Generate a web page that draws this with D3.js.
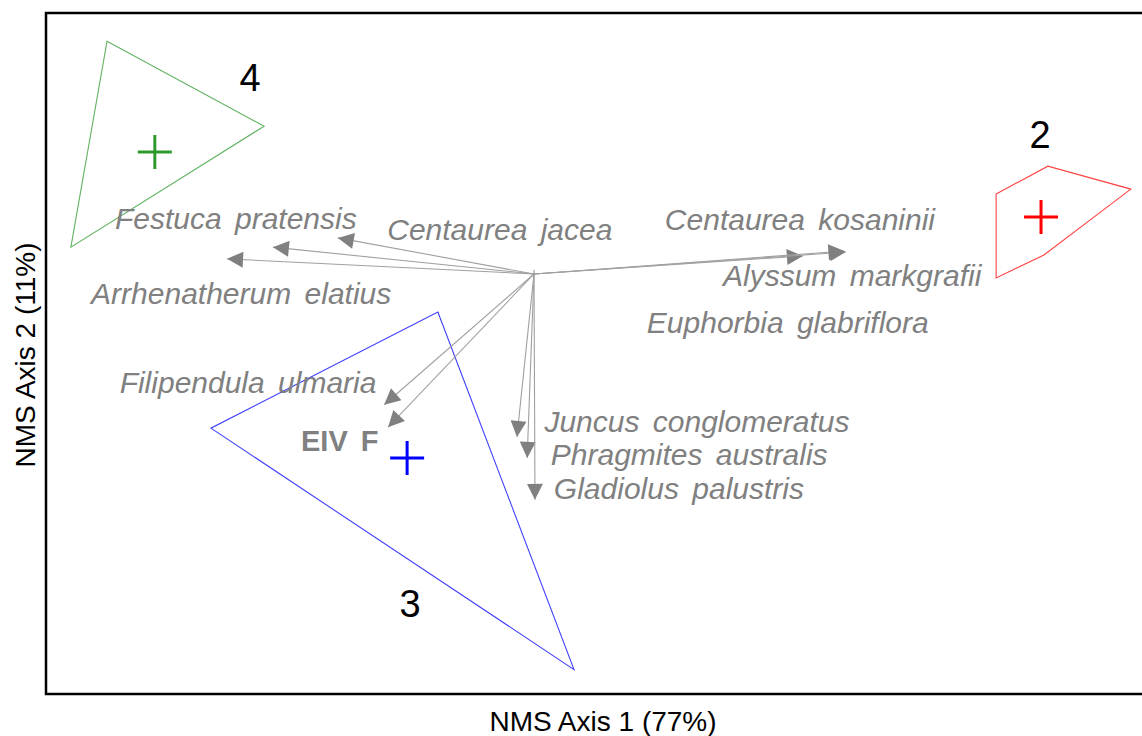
<!DOCTYPE html>
<html>
<head>
<meta charset="utf-8">
<script src="https://cdn.jsdelivr.net/npm/d3@7"></script>
<style>
  body { margin: 0; background: #fff; }
  svg { display: block; font-family: "Liberation Sans", Arial, sans-serif; }
</style>
</head>
<body>
<div id="chart"></div>
<script>
// species vectors (NMS scores), tip of arrow
var species = ["Festuca pratensis", "Centaurea jacea", "Arrhenatherum elatius", "Centaurea kosaninii",
    "Alyssum markgrafii", "Euphorbia glabriflora", "Filipendula ulmaria", "EIV F",
    "Juncus conglomeratus", "Phragmites australis", "Gladiolus palustris"];
var arrowX = [-0.535, -0.402, -0.629, 0.551, 0.639, 0.636, -0.307, -0.299, -0.035, -0.014, 0.002];
var arrowY = [0.055, 0.074, 0.031, 0.037, 0.045, 0.047, -0.268, -0.314, -0.334, -0.377, -0.463];
var labelX = [-0.611, -0.070, -0.600, 0.545, 0.652, 0.520, -0.586, -0.398, 0.334, 0.318, 0.297];
var labelY = [0.092, 0.070, -0.061, 0.090, -0.025, -0.121, -0.244, -0.363, -0.324, -0.391, -0.461];

// groups: hull vertices and centroids
var groups = ["4", "2", "3"];
var groupColors = ["#2e9a2e", "#ff0000", "#0000ff"];
var hullX = [[-0.875, -0.553, -0.949], [0.947, 1.053, 1.223, 1.045, 0.947], [-0.197, 0.082, -0.662]];
var hullY = [[0.477, 0.303, 0.055], [0.164, 0.221, 0.174, 0.039, -0.008], [-0.078, -0.811, -0.316]];
var centX = [-0.777, 1.039, -0.260];
var centY = [0.250, 0.117, -0.377];
var groupLabelX = [-0.582, 1.037, -0.254];
var groupLabelY = [0.375, 0.258, -0.703];

var xTitle = "NMS Axis 1 (77%)";
var yTitle = "NMS Axis 2 (11%)";

var W = 1142, H = 736;
var margin = {top: 13, right: -2, bottom: 42, left: 46};
var width = W - margin.left - margin.right,
    height = H - margin.top - margin.bottom;

var svg = d3.select("#chart").append("svg").attr("width", W).attr("height", H);
var g = svg.append("g").attr("transform", "translate(" + margin.left + "," + margin.top + ")");

var x = d3.scaleLinear().domain([-1.0, 1.25]).range([0, width]);
var y = d3.scaleLinear().domain([-0.861, 0.535]).range([height, 0]);

// arrow marker
svg.append("defs").append("marker")
    .attr("id", "head").attr("viewBox", "0 0 10 10")
    .attr("refX", 10).attr("refY", 5)
    .attr("markerWidth", 22).attr("markerHeight", 16)
    .attr("markerUnits", "userSpaceOnUse")
    .attr("orient", "auto")
    .append("path").attr("d", "M0,0L10,5L0,10Z").attr("fill", "#808080");

// hulls
groups.forEach(function(grp, i) {
    var pts = hullX[i].map(function(v, j) { return [x(v), y(hullY[i][j])]; });
    g.append("path")
        .attr("d", d3.line().curve(d3.curveLinearClosed)(pts))
        .attr("fill", "none").attr("stroke", groupColors[i]).attr("stroke-width", 1.1)
        .attr("stroke-opacity", 0.75);
    var cx = x(centX[i]), cy = y(centY[i]);
    g.append("path")
        .attr("d", "M" + (cx - 17) + "," + cy + "H" + (cx + 17) + "M" + cx + "," + (cy - 17) + "V" + (cy + 17))
        .attr("stroke", groupColors[i]).attr("stroke-width", 3);
    g.append("text")
        .attr("x", x(groupLabelX[i])).attr("y", y(groupLabelY[i]))
        .attr("text-anchor", "middle").attr("font-size", 38).attr("fill", "#000")
        .text(grp);
});

// species arrows
g.selectAll(".vec").data(species).enter().append("line")
    .attr("class", "vec")
    .attr("x1", x(0)).attr("y1", y(0))
    .attr("x2", function(d, i) { return x(arrowX[i]); })
    .attr("y2", function(d, i) { return y(arrowY[i]); })
    .attr("stroke", "#a0a0a0").attr("stroke-width", 1.1)
    .attr("marker-end", "url(#head)");

g.append("line").attr("x1", x(0)).attr("x2", x(0)).attr("y1", y(0)).attr("y2", y(0) - 4)
    .attr("stroke", "#8c8c8c");

g.selectAll(".lab").data(species).enter().append("text")
    .attr("class", "lab")
    .attr("x", function(d, i) { return x(labelX[i]); })
    .attr("y", function(d, i) { return y(labelY[i]); })
    .attr("text-anchor", "middle")
    .attr("font-size", function(d) { return d == "EIV F" ? 29 : 30; })
    .attr("word-spacing", 5)
    .attr("font-style", function(d) { return d == "EIV F" ? "normal" : "italic"; })
    .attr("font-weight", function(d) { return d == "EIV F" ? "bold" : "normal"; })
    .attr("fill", "#808080")
    .text(function(d) { return d; });

// frame
g.append("rect").attr("x", 0).attr("y", 0).attr("width", width).attr("height", height)
    .attr("fill", "none").attr("stroke", "#000").attr("stroke-width", 2.5);

// axis titles
svg.append("text").attr("x", 603).attr("y", 731).attr("text-anchor", "middle")
    .attr("font-size", 28).attr("fill", "#000").text(xTitle);
svg.append("text").attr("transform", "translate(35,355) rotate(-90)").attr("text-anchor", "middle")
    .attr("font-size", 28).attr("fill", "#000").text(yTitle);
</script>
</body>
</html>
